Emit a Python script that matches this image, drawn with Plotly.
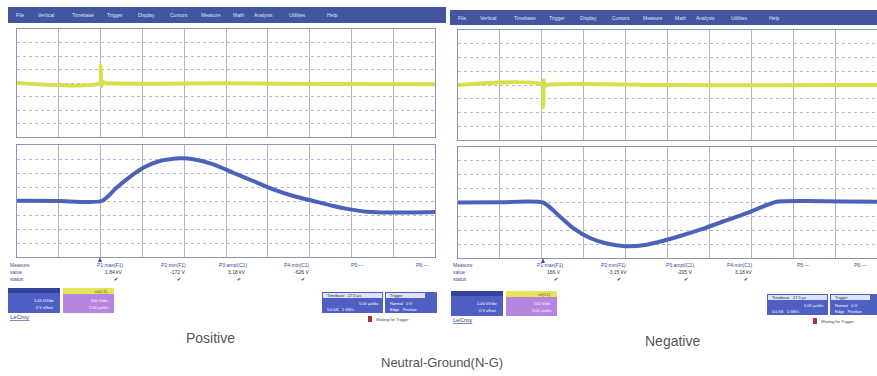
import plotly.graph_objects as go

W, H = 877, 376

# ---- data (in scope divisions: x 0..10, y -4..4) ----
pos_ch1_x = [0, 1.98, 2.0, 2.02, 2.05, 2.12, 5.0, 7.5, 10]
pos_ch1_y = [0, 0, 1.25, -0.25, 0.1, 0, -0.02, -0.08, -0.1]

pos_f1_x = [0, 1.0, 2.03, 2.38, 2.78, 3.02, 3.42, 3.90, 4.22, 4.70, 5.17, 5.65,
            6.13, 6.61, 7.09, 7.57, 7.97, 8.37, 9.16, 10]
pos_f1_y = [0.02, 0.0, 0.0, 0.95, 1.90, 2.38, 2.86, 3.05, 2.98, 2.62, 2.02, 1.43,
            0.83, 0.36, 0.0, -0.36, -0.60, -0.76, -0.83, -0.79]

neg_ch1_x = [0, 2.0, 2.03, 2.05, 2.07, 2.12, 5.0, 7.5, 10]
neg_ch1_y = [0, 0, -1.6, 0.35, -0.15, 0, 0.0, -0.02, 0.0]

neg_f1_x = [0, 1.0, 2.03, 2.43, 2.75, 3.15, 3.55, 3.99, 4.50, 5.14, 5.78, 6.33,
            6.89, 7.37, 7.61, 8.32, 9.2, 10]
neg_f1_y = [0.0, 0.02, 0.0, -1.01, -1.84, -2.56, -2.96, -3.15, -3.04, -2.56, -1.96,
            -1.37, -0.77, -0.18, 0.06, 0.10, 0.08, 0.06]

menu_items = ["File", "Vertical", "Timebase", "Trigger", "Display", "Cursors",
              "Measure", "Math", "Analysis", "Utilities", "Help"]
param_labels = ["P1:max(F1)", "P2:min(F1)", "P3:ampl(C1)", "P4:min(C1)", "P5:---", "P6:---"]
pos_values = ["1.84 kV", "-172 V", "3.18 kV", "-626 V", "", ""]
neg_values = ["166 V", "-3.15 kV", "-205 V", "3.18 kV", "", ""]
row_labels = ["Measure", "value", "status"]
captions = ["Positive", "Negative", "Neutral-Ground(N-G)"]

YEL = "#d6e04c"
BLU = "#4c62b6"


def px(x):
    return x / W


def py(y):
    return 1 - y / H


fig = go.Figure()

panels = [
    ("", 17, 435, 29, 137),
    ("2", 17, 435, 145, 257),
    ("3", 458, 877, 30, 140),
    ("4", 458, 877, 147, 258),
]
series = [
    (pos_ch1_x, pos_ch1_y, YEL, 4),
    (pos_f1_x, pos_f1_y, BLU, 4),
    (neg_ch1_x, neg_ch1_y, YEL, 4),
    (neg_f1_x, neg_f1_y, BLU, 4),
]

layout = dict(
    width=W, height=H, margin=dict(l=0, r=0, t=0, b=0),
    paper_bgcolor="white", plot_bgcolor="white", showlegend=False,
)

for (aid, x0, x1, y0, y1), (xs, ys, col, lw) in zip(panels, series):
    fig.add_trace(go.Scatter(x=xs, y=ys, mode="lines",
                             line=dict(color=col, width=lw, shape="spline", smoothing=0.6),
                             xaxis="x" + aid, yaxis="y" + aid, hoverinfo="skip"))
    layout["xaxis" + aid] = dict(
        domain=[px(x0), px(x1)], range=[0, 10], dtick=1, showticklabels=False,
        showgrid=True, gridcolor="#b3b5c0", gridwidth=1, zeroline=False,
        showline=True, mirror=True, linecolor="#8e94b4", linewidth=1,
        anchor="y" + aid, fixedrange=True)
    layout["yaxis" + aid] = dict(
        domain=[py(y1), py(y0)], range=[-4, 4], dtick=1, showticklabels=False,
        showgrid=True, gridcolor="#b4b8d0", griddash="dot", gridwidth=1,
        zeroline=False, showline=True, mirror=True, linecolor="#8e94b4",
        linewidth=1, anchor="x" + aid, fixedrange=True)

fig.update_layout(**layout)

shapes = []
ann = []


def rect(x0, y0, x1, y1, fill, line=None):
    shapes.append(dict(type="rect", xref="paper", yref="paper",
                       x0=px(x0), x1=px(x1), y0=py(y1), y1=py(y0),
                       fillcolor=fill, line=dict(width=0 if line is None else 1,
                                                 color=line or fill), layer="above"))


def text(x, y, s, size=5, color="#3a4a9a", anchor="left", family="Liberation Sans"):
    ann.append(dict(x=px(x), y=py(y), xref="paper", yref="paper", text=s,
                    showarrow=False, xanchor=anchor, yanchor="middle",
                    font=dict(size=size, color=color, family=family)))


# menu bars
for (bx0, bx1, by0, by1) in [(8, 446, 7, 23), (450, 877, 10, 25)]:
    rect(bx0, by0, bx1, by1, "#44559f")
    xx = bx0 + 6
    for m in menu_items:
        text(xx, (by0 + by1) / 2, m, size=5, color="#dfe3f5")
        xx += len(m) * 3.2 + 9

# measurement area + boxes for each panel
for ox, vals in [(0, pos_values), (443, neg_values)]:
    xs_params = [110, 173, 233, 297, 357, 422] if ox == 0 else [550, 613, 680, 740, 803, 860]
    for i, lab in enumerate(row_labels):
        text(8 + ox, 265 + i * 7, lab, size=5)
    for xp, lab, v in zip(xs_params, param_labels, vals):
        text(xp, 265, lab, size=5, anchor="center")
        if v:
            text(xp + 4, 272, v, size=5, anchor="center", color="#333")
            text(xp + 6, 279, "✔", size=5, anchor="center", color="#222")
    bx = 8 + ox
    by0 = 288 if ox == 0 else 291
    rect(bx, by0, bx + 52, by0 + 25, "#4f5fc4")
    rect(bx, by0, bx + 52, by0 + 5, "#33449a")
    text(bx + 48, by0 + 12, "1.00 kV/div", size=4, color="white", anchor="right")
    text(bx + 48, by0 + 19, "0 V offset", size=4, color="white", anchor="right")
    rect(bx + 55, by0, bx + 106, by0 + 25, "#b784e0")
    rect(bx + 55, by0, bx + 106, by0 + 6, "#e6e45a")
    text(bx + 102, by0 + 3, "ch(C1)", size=4, color="#444", anchor="right")
    text(bx + 102, by0 + 12, "500 V/div", size=4, color="white", anchor="right")
    text(bx + 102, by0 + 19, "5.00 \u00b5s/div", size=4, color="white", anchor="right")
    text(bx, by0 + 29, "<u>LeCroy</u>", size=6, color="#2c3c8c")
    tx = 322 if ox == 0 else 767
    ty = 292 if ox == 0 else 294
    rect(tx, ty, tx + 61, ty + 21, "#4f5fc4")
    rect(tx + 1, ty + 1, tx + 60, ty + 6, "#dde3fa")
    text(tx + 3, ty + 3.5, "Timebase  -17.5 \u00b5s", size=4, color="#233")
    text(tx + 58, ty + 11, "5.00 \u00b5s/div", size=4, color="white", anchor="right")
    text(tx + 3, ty + 17, "5.0 kS   1 GS/s", size=4, color="white")
    trx = tx + 63
    rect(trx, ty, trx + 52, ty + 21, "#4f5fc4")
    rect(trx + 1, ty + 1, trx + 40, ty + 6, "#dde3fa")
    text(trx + 3, ty + 3.5, "Trigger", size=4, color="#233")
    text(trx + 3, ty + 11, "Normal   0 V", size=4, color="white")
    text(trx + 3, ty + 17, "Edge   Positive", size=4, color="white")
    rx = 368 if ox == 0 else 813
    rect(rx, ty + 24, rx + 4, ty + 30, "#b03040")
    text(rx + 6, ty + 27, "Waiting for Trigger", size=4, color="#444")
    trig_x = 100 if ox == 0 else 543
    gy = 257 if ox == 0 else 258
    shapes.append(dict(type="path", xref="paper", yref="paper",
                       path=f"M {px(trig_x-2)} {py(gy+5)} L {px(trig_x+2)} {py(gy+5)} L {px(trig_x)} {py(gy)} Z",
                       fillcolor="#3c4ea6", line=dict(width=0), layer="above"))

text(210, 338, captions[0], size=14, color="#555", anchor="center")
text(672, 341, captions[1], size=14, color="#555", anchor="center")
text(442, 362, captions[2], size=13, color="#555", anchor="center")

fig.update_layout(shapes=shapes, annotations=ann)
fig.write_html("out.html", config={"displayModeBar": False},
               post_script="document.body.style.margin='0';document.body.style.overflow='hidden';")
